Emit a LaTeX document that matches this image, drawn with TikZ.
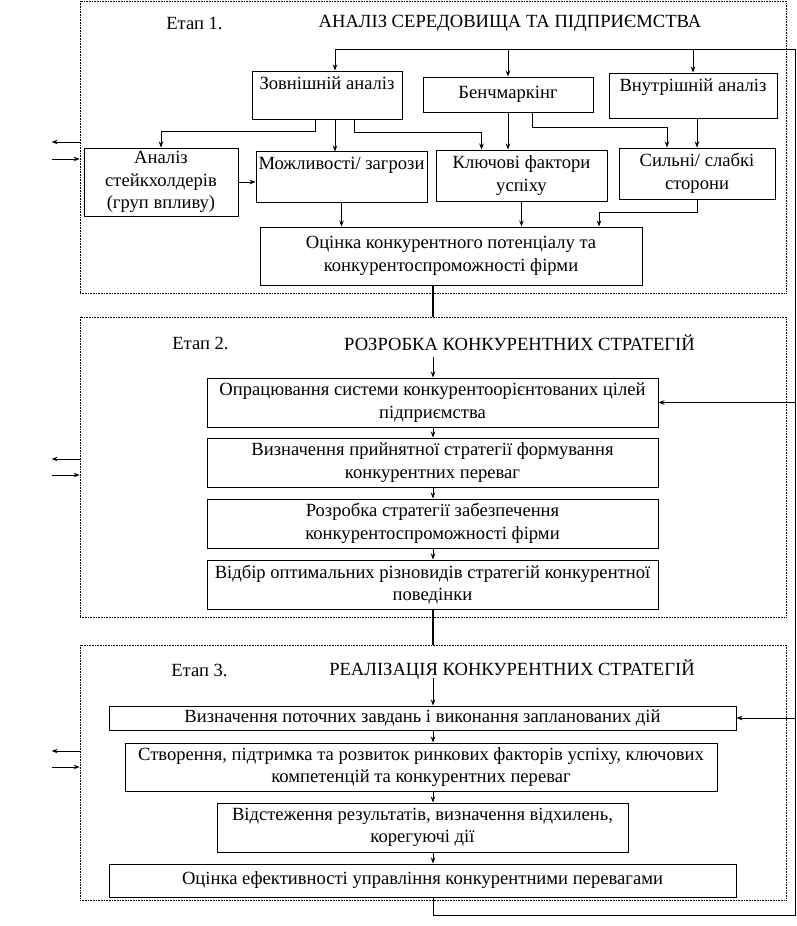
\documentclass[tikz,border=0pt]{standalone}
\usepackage{fontspec}
\setmainfont{Liberation Serif}
\usetikzlibrary{arrows.meta, positioning, calc}

\begin{document}
\begin{tikzpicture}[
  x=1pt, y=-1pt,
  >={Stealth[length=6pt, width=4.5pt]},
  font=\fontsize{18.6}{22.5}\selectfont,
  flow/.style={->, line width=0.8pt},
  link/.style={line width=0.8pt},
  heavy/.style={line width=1.8pt},
  stageframe/.style={draw, line width=0.7pt, dash pattern=on 0.8pt off 0.8pt},
  box/.style={draw, line width=1pt, align=center, inner sep=1pt},
  toptext/.style={label={[anchor=north, inner sep=6pt]north:#1}},
  header/.style={inner sep=0pt}
]
  \useasboundingbox (0,0) rectangle (797,926);

  % stage frames
  \node[stageframe, minimum width=706pt, minimum height=292pt] (st1) at (433,147) {};
  \node[stageframe, minimum width=706pt, minimum height=300pt] (st2) at (433,467) {};
  \node[stageframe, minimum width=706pt, minimum height=255pt] (st3) at (433,772.5) {};

  \node[header] (h1a) at (194.5,23) {Етап 1.};
  \node[header] (h1b) at (510,23) {АНАЛІЗ СЕРЕДОВИЩА ТА ПІДПРИЄМСТВА};
  \node[header] (h2a) at (200.5,343) {Етап 2.};
  \node[header] (h2b) at (519.5,343) {РОЗРОБКА КОНКУРЕНТНИХ СТРАТЕГІЙ};
  \node[header] (h3a) at (199.5,670) {Етап 3.};
  \node[header] (h3b) at (512,670) {РЕАЛІЗАЦІЯ КОНКУРЕНТНИХ СТРАТЕГІЙ};

  % stage 1
  \node[box, minimum width=150pt, minimum height=48pt, toptext={Зовнішній аналіз}] (ext) at (327,95) {};
  \node[box, minimum width=170pt, minimum height=35pt] (bench) at (508,94.5) {Бенчмаркінг};
  \node[box, minimum width=168pt, minimum height=45pt, toptext={Внутрішній аналіз}] (int) at (693,95.5) {};
  \node[box, minimum width=154pt, minimum height=68pt] (stake) at (161,182) {Аналіз\\стейкхолдерів\\(груп впливу)};
  \node[box, minimum width=171pt, minimum height=51pt, toptext={Можливості/ загрози}] (opp) at (341.5,176.5) {};
  \node[box, minimum width=171pt, minimum height=51pt] (key) at (521.5,175.5) {Ключові фактори\\успіху};
  \node[box, minimum width=156pt, minimum height=51pt] (strong) at (697,173.5) {Сильні/ слабкі\\сторони};
  \node[box, minimum width=382pt, minimum height=58pt] (eval) at (451,256) {Оцінка конкурентного потенціалу та\\конкурентоспроможності фірми};

  % stage 2
  \node[box, minimum width=451pt, minimum height=49pt] (s2a) at (432.5,402.5) {Опрацювання системи конкурентоорієнтованих цілей\\підприємства};
  \node[box, minimum width=451pt, minimum height=49pt] (s2b) at (432.5,462.5) {Визначення прийнятної стратегії формування\\конкурентних переваг};
  \node[box, minimum width=451pt, minimum height=49pt] (s2c) at (432.5,523.5) {Розробка стратегії забезпечення\\конкурентоспроможності фірми};
  \node[box, minimum width=451pt, minimum height=49pt] (s2d) at (432.5,584.5) {Відбір оптимальних різновидів стратегій конкурентної\\поведінки};

  % stage 3
  \node[box, minimum width=627pt, minimum height=24pt] (s3a) at (422.5,718) {Визначення поточних завдань і виконання запланованих дій};
  \node[box, minimum width=592pt, minimum height=48pt] (s3b) at (421,767) {Створення, підтримка та розвиток ринкових факторів успіху, ключових\\компетенцій та конкурентних переваг};
  \node[box, minimum width=411pt, minimum height=49pt] (s3c) at (422.5,827.5) {Відстеження результатів, визначення відхилень,\\корегуючі дії};
  \node[box, minimum width=627pt, minimum height=33pt] (s3d) at (422.5,880.5) {Оцінка ефективності управління конкурентними перевагами};

  \coordinate (loopT) at (795,49);
  \coordinate (loopB) at (795,915);
  \coordinate (in2) at (433,357);
  \coordinate (in3) at (433,678);

  % feedback loop
  \draw[flow] (in3 |- s3d.south) |- (loopB) -- (loopT) -| ([xshift=8pt]ext.north);
  \draw[flow] (bench.north |- loopT) -- (bench.north);
  \draw[flow] (int.north |- loopT) -- (int.north);
  \draw[flow] (loopT |- s2a.east) -- (s2a.east);
  \draw[flow] (loopT |- s3a.east) -- (s3a.east);

  % stage 1 links
  \draw[flow] ([xshift=-12pt]ext.south) -- ++(0,12) -| (stake.north);
  \draw[flow] ([xshift=8pt]ext.south) -- ++(0,32);
  \draw[flow] ([xshift=27pt]ext.south) -- ++(0,13) -| ([xshift=-40pt]key.north);
  \draw[flow] (bench.south) -- (bench.south |- key.north);
  \draw[flow] ([xshift=24pt]bench.south) -- ++(0,15) -| ([xshift=-30pt]strong.north);
  \draw[flow] (strong.north |- int.south) -- (strong.north);
  \draw[flow] (stake.east) -- (stake.east -| opp.west);
  \draw[flow] (opp.south) -- (opp.south |- eval.north);
  \draw[flow, line width=1.4pt] (key.south) -- (key.south |- eval.north);
  \draw[flow] (strong.south) -- ++(0,13) -| ([xshift=148pt]eval.north);

  % between stages
  \draw[heavy] (in2 |- eval.south) -- (in2 |- st2.north);
  \draw[flow] (in2) -- (in2 |- s2a.north);
  \foreach \a/\b in {s2a/s2b, s2b/s2c, s2c/s2d}
    \draw[flow] (in2 |- \a.south) -- (in2 |- \b.north);
  \draw[heavy] (in2 |- s2d.south) -- (in2 |- st3.north);
  \draw[flow] (in3) -- (in3 |- s3a.north);
  \foreach \a/\b in {s3a/s3b, s3b/s3c, s3c/s3d}
    \draw[flow] (in3 |- \a.south) -- (in3 |- \b.north);

  % outside links
  \foreach \fr/\ya/\yb in {st1/142/159, st2/459/475, st3/751/767} {
    \draw[flow] (\fr.west |- 0,\ya) -- ++(-28,0);
    \draw[flow] (52,\yb) -- (\fr.west |- 0,\yb);
  }
\end{tikzpicture}
\end{document}
